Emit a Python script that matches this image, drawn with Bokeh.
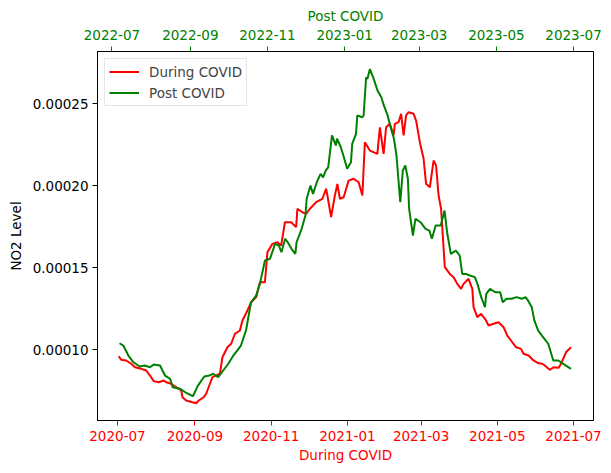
import pandas as pd
from datetime import datetime
from bokeh.plotting import figure
from bokeh.models import (Range1d, DatetimeAxis, MonthsTicker, DatetimeTickFormatter,
                          FixedTicker, PrintfTickFormatter, Legend, LegendItem)
from bokeh.embed import file_html
from bokeh.resources import INLINE

during_dates = ["2020-07-02","2020-07-04","2020-07-08","2020-07-12","2020-07-15","2020-07-20","2020-07-24",
    "2020-07-27","2020-07-30","2020-08-03","2020-08-07","2020-08-09","2020-08-13","2020-08-17","2020-08-21",
    "2020-08-22","2020-08-25","2020-08-30","2020-09-02","2020-09-04","2020-09-08","2020-09-10","2020-09-13",
    "2020-09-15","2020-09-21","2020-09-23","2020-09-27","2020-09-30","2020-10-03","2020-10-07","2020-10-09",
    "2020-10-13","2020-10-16","2020-10-20","2020-10-23","2020-10-27","2020-10-29","2020-11-02","2020-11-06",
    "2020-11-09","2020-11-12","2020-11-17","2020-11-21","2020-11-22","2020-11-26","2020-11-29","2020-12-02",
    "2020-12-07","2020-12-12","2020-12-15","2020-12-16","2020-12-19","2020-12-22","2020-12-24","2020-12-26",
    "2020-12-29","2021-01-02","2021-01-06","2021-01-10","2021-01-13","2021-01-15","2021-01-19","2021-01-25",
    "2021-01-27","2021-01-30","2021-02-01","2021-02-04","2021-02-07","2021-02-08","2021-02-11","2021-02-13",
    "2021-02-15","2021-02-17","2021-02-19","2021-02-23","2021-02-25","2021-02-28","2021-03-03","2021-03-05",
    "2021-03-08","2021-03-11","2021-03-13","2021-03-15","2021-03-17","2021-03-20","2021-03-24","2021-03-27",
    "2021-03-30","2021-04-02","2021-04-04","2021-04-08","2021-04-11","2021-04-12","2021-04-15","2021-04-18",
    "2021-04-22","2021-04-24","2021-04-28","2021-05-02","2021-05-06","2021-05-09","2021-05-13","2021-05-16",
    "2021-05-20","2021-05-22","2021-05-26","2021-05-30","2021-06-03","2021-06-06","2021-06-08","2021-06-12",
    "2021-06-15","2021-06-19","2021-06-21","2021-06-25","2021-06-29"]
during_no2 = [9.61e-5,9.39e-5,9.35e-5,9.15e-5,8.94e-5,8.84e-5,8.74e-5,
    8.43e-5,8.09e-5,8.02e-5,8.13e-5,8.02e-5,7.93e-5,7.72e-5,7.52e-5,
    7.11e-5,6.91e-5,6.80e-5,6.74e-5,6.91e-5,7.11e-5,7.32e-5,7.93e-5,
    8.33e-5,8.54e-5,9.55e-5,10.16e-5,10.37e-5,10.98e-5,11.18e-5,11.79e-5,
    12.40e-5,12.90e-5,13.21e-5,14.12e-5,14.12e-5,15.95e-5,16.46e-5,16.56e-5,
    16.36e-5,17.78e-5,17.78e-5,17.48e-5,18.60e-5,18.39e-5,18.29e-5,18.60e-5,
    19.00e-5,19.21e-5,19.82e-5,19.41e-5,18.09e-5,19.41e-5,20.12e-5,19.21e-5,
    19.30e-5,20.32e-5,20.43e-5,20.22e-5,19.41e-5,22.66e-5,22.15e-5,21.95e-5,
    23.57e-5,21.95e-5,23.57e-5,23.78e-5,23.07e-5,23.78e-5,23.88e-5,24.39e-5,
    23.07e-5,24.29e-5,24.49e-5,24.39e-5,23.98e-5,22.66e-5,21.65e-5,20.12e-5,
    19.91e-5,21.54e-5,21.24e-5,19.41e-5,18.60e-5,15.04e-5,14.63e-5,14.43e-5,
    14.02e-5,13.72e-5,14.02e-5,14.33e-5,13.72e-5,12.60e-5,11.99e-5,12.20e-5,
    11.79e-5,11.48e-5,11.59e-5,11.68e-5,11.38e-5,10.87e-5,10.46e-5,10.16e-5,
    10.06e-5,9.76e-5,9.65e-5,9.35e-5,9.18e-5,9.15e-5,9.04e-5,8.78e-5,
    8.94e-5,8.90e-5,9.15e-5,9.85e-5,10.16e-5]

post_dates = ["2022-07-07","2022-07-10","2022-07-14","2022-07-18","2022-07-23","2022-07-27","2022-07-31",
    "2022-08-03","2022-08-08","2022-08-12","2022-08-16","2022-08-18","2022-08-24","2022-08-28","2022-09-03",
    "2022-09-07","2022-09-12","2022-09-16","2022-09-19","2022-09-23","2022-09-27","2022-10-01","2022-10-05",
    "2022-10-11","2022-10-15","2022-10-19","2022-10-23","2022-10-26","2022-10-30","2022-11-03","2022-11-07",
    "2022-11-10","2022-11-12","2022-11-15","2022-11-17","2022-11-20","2022-11-23","2022-11-24","2022-11-28",
    "2022-12-01","2022-12-02","2022-12-05","2022-12-07","2022-12-10","2022-12-13","2022-12-15","2022-12-17",
    "2022-12-19","2022-12-22","2022-12-25","2022-12-26","2022-12-29","2022-12-31","2023-01-03","2023-01-06",
    "2023-01-07","2023-01-10","2023-01-11","2023-01-15","2023-01-16","2023-01-18","2023-01-19","2023-01-21",
    "2023-01-24","2023-01-27","2023-01-30","2023-02-01","2023-02-04","2023-02-06","2023-02-09","2023-02-11",
    "2023-02-14","2023-02-16","2023-02-18","2023-02-20","2023-02-21","2023-02-24","2023-02-26","2023-03-02",
    "2023-03-06","2023-03-09","2023-03-11","2023-03-14","2023-03-18","2023-03-21","2023-03-23","2023-03-26",
    "2023-03-30","2023-04-02","2023-04-04","2023-04-07","2023-04-10","2023-04-14","2023-04-16","2023-04-19",
    "2023-04-22","2023-04-23","2023-04-26","2023-04-30","2023-05-04","2023-05-06","2023-05-09","2023-05-13",
    "2023-05-17","2023-05-21","2023-05-24","2023-05-26","2023-05-29","2023-05-31","2023-06-03","2023-06-06",
    "2023-06-08","2023-06-11","2023-06-15","2023-06-19","2023-06-21","2023-06-25","2023-06-29"]
post_no2 = [10.40e-5,10.26e-5,9.65e-5,9.24e-5,8.98e-5,9.04e-5,8.94e-5,
    9.10e-5,9.04e-5,8.43e-5,8.23e-5,7.72e-5,7.62e-5,7.41e-5,7.17e-5,
    7.82e-5,8.37e-5,8.43e-5,8.54e-5,8.33e-5,8.74e-5,9.15e-5,9.65e-5,
    10.26e-5,11.18e-5,12.90e-5,13.31e-5,14.02e-5,15.45e-5,15.55e-5,16.46e-5,
    16.36e-5,15.95e-5,16.77e-5,16.56e-5,16.16e-5,15.85e-5,16.56e-5,17.38e-5,
    18.19e-5,19.21e-5,20.02e-5,19.51e-5,20.22e-5,20.73e-5,20.52e-5,20.93e-5,
    21.13e-5,23.07e-5,22.46e-5,22.87e-5,22.35e-5,21.85e-5,21.04e-5,21.44e-5,
    22.56e-5,23.17e-5,24.29e-5,24.18e-5,24.29e-5,26.62e-5,26.52e-5,27.12e-5,
    26.52e-5,25.81e-5,25.40e-5,24.90e-5,24.29e-5,23.68e-5,22.87e-5,21.85e-5,
    19.00e-5,20.93e-5,21.24e-5,20.43e-5,18.60e-5,16.97e-5,17.99e-5,17.78e-5,
    17.38e-5,17.27e-5,16.77e-5,17.58e-5,17.58e-5,18.49e-5,17.17e-5,15.85e-5,
    16.05e-5,15.75e-5,14.63e-5,14.63e-5,14.53e-5,14.43e-5,14.02e-5,13.21e-5,
    12.60e-5,13.41e-5,13.72e-5,13.51e-5,13.51e-5,12.90e-5,13.11e-5,13.11e-5,
    13.21e-5,13.11e-5,13.21e-5,13.01e-5,12.60e-5,11.79e-5,11.18e-5,10.87e-5,
    10.67e-5,10.37e-5,9.35e-5,9.35e-5,9.24e-5,9.04e-5,8.84e-5]

y_ticks = [0.00010, 0.00015, 0.00020, 0.00025]

FONT = "DejaVu Sans"
FS = "13.5px"

dd = pd.to_datetime(during_dates)
pd_ = pd.to_datetime(post_dates)

p = figure(width=603, height=465, output_backend="svg", toolbar_location=None,
           x_axis_type="datetime",
           x_range=Range1d(datetime(2020, 6, 15), datetime(2021, 7, 17)),
           y_range=Range1d(0.0000569, 0.0002819),
           min_border_left=97, min_border_right=10, min_border_top=51, min_border_bottom=45)
p.extra_x_ranges = {"post": Range1d(datetime(2022, 6, 19, 14), datetime(2023, 7, 16, 19))}

p.xgrid.visible = False
p.ygrid.visible = False
p.outline_line_color = "black"
p.outline_line_width = 1
p.background_fill_color = "white"

r1 = p.line(dd, during_no2, line_color="red", line_width=2)
r2 = p.line(pd_, post_no2, line_color="green", line_width=2, x_range_name="post")

def style_x(ax, color, label, standoff):
    ax.ticker = MonthsTicker(months=[0, 2, 4, 6, 8, 10])
    ax.formatter = DatetimeTickFormatter(months="%Y-%m", days="%Y-%m", years="%Y-%m")
    ax.axis_label = label
    ax.axis_label_text_color = color
    ax.axis_label_text_font = FONT
    ax.axis_label_text_font_size = FS
    ax.axis_label_text_font_style = "normal"
    ax.axis_label_standoff = 3
    ax.major_label_text_color = color
    ax.major_label_text_font = FONT
    ax.major_label_text_font_size = FS
    ax.major_label_standoff = standoff
    ax.major_tick_line_color = color
    ax.major_tick_in = 0
    ax.major_tick_out = 5
    ax.minor_tick_line_color = None
    ax.axis_line_color = "black"

xb = p.xaxis[0]
style_x(xb, "red", "During COVID", 5)

xt = DatetimeAxis(x_range_name="post")
style_x(xt, "green", "Post COVID", 7)
p.add_layout(xt, "above")

ya = p.yaxis[0]
ya.ticker = FixedTicker(ticks=y_ticks)
ya.formatter = PrintfTickFormatter(format="%.5f")
ya.axis_label = "NO2 Level"
ya.axis_label_text_font = FONT
ya.axis_label_text_font_size = FS
ya.axis_label_text_font_style = "normal"
ya.axis_label_text_color = "black"
ya.major_label_text_font = FONT
ya.major_label_text_font_size = FS
ya.major_label_text_color = "black"
ya.major_tick_in = 0
ya.major_tick_out = 5
ya.minor_tick_line_color = None
ya.major_label_standoff = 4
ya.axis_label_standoff = 6

legend = Legend(items=[LegendItem(label="During COVID", renderers=[r1]),
                       LegendItem(label="Post COVID", renderers=[r2])],
                location="top_left")
legend.margin = 7
legend.padding = 4
legend.spacing = 4
legend.label_height = 17
legend.glyph_height = 17
legend.glyph_width = 30
legend.label_standoff = 10
legend.label_text_font = FONT
legend.label_text_font_size = FS
legend.border_line_color = "#cccccc"
legend.border_line_width = 1
legend.background_fill_alpha = 0.8
p.add_layout(legend, "center")

open("out.html", "w").write(file_html(p, INLINE))
